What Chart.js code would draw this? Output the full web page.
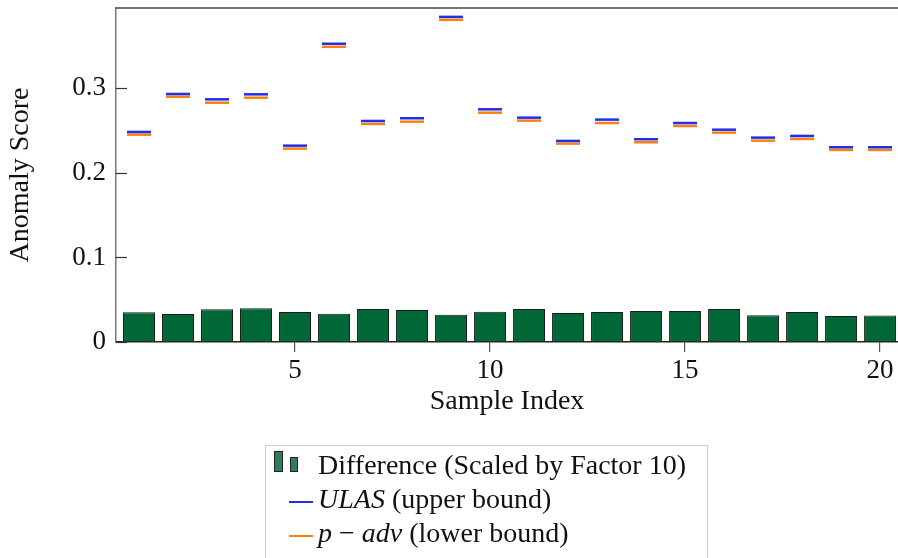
<!DOCTYPE html>
<html>
<head>
<meta charset="utf-8">
<script src="https://cdn.jsdelivr.net/npm/chart.js@4.4.1/dist/chart.umd.min.js"></script>
<style>
  html, body { margin: 0; padding: 0; background: #fff; }
  #wrap { width: 898px; height: 558px; }
</style>
</head>
<body>
<div id="wrap"><canvas id="myChart" width="898" height="558"></canvas></div>
<script>
// values
var sampleIndex = [1, 2, 3, 4, 5, 6, 7, 8, 9, 10, 11, 12, 13, 14, 15, 16, 17, 18, 19, 20];
var ulasUpper = [0.2484, 0.2933, 0.2870, 0.2929, 0.2322, 0.3527, 0.2614, 0.2646, 0.3845, 0.2752,
                 0.2653, 0.2378, 0.2630, 0.2398, 0.2590, 0.2511, 0.2417, 0.2437, 0.2303, 0.2303];
var padvLower = [0.2452, 0.2901, 0.2830, 0.2889, 0.2287, 0.3491, 0.2579, 0.2606, 0.3810, 0.2712,
                 0.2618, 0.2346, 0.2590, 0.2362, 0.2555, 0.2476, 0.2381, 0.2402, 0.2271, 0.2271];
var diffScaled = [0.0351, 0.0332, 0.0386, 0.0398, 0.0355, 0.0335, 0.0391, 0.0379, 0.0323, 0.0359,
                  0.0391, 0.0343, 0.0355, 0.0367, 0.0367, 0.0391, 0.0315, 0.0355, 0.0308, 0.0312];
var xTicks = [5, 10, 15, 20];
var yTicks = [0, 0.1, 0.2, 0.3];

// legend text, split where the reference switches to math italic
var legendRows = [
  [['Difference (Scaled by Factor 10)', false]],
  [['ULAS', true], [' (upper bound)', false]],
  [['p', true], [' \u2212 ', false], ['adv', true], [' (lower bound)', false]]
];

function points(ys) {
  return sampleIndex.map(function (x, i) { return { x: x, y: ys[i] }; });
}

var FONT = 'Liberation Serif';

// top frame line and the inward y ticks
var frameTicks = {
  id: 'frameTicks',
  afterDatasetsDraw: function (chart) {
    var ctx = chart.ctx, a = chart.chartArea, y = chart.scales.y;
    ctx.save();
    ctx.strokeStyle = '#444';
    ctx.lineWidth = 1.5;
    ctx.beginPath();
    ctx.moveTo(a.left, a.top);
    ctx.lineTo(a.right, a.top);
    ctx.stroke();
    ctx.strokeStyle = '#333';
    ctx.lineWidth = 1.2;
    yTicks.forEach(function (v) {
      var py = Math.round(y.getPixelForValue(v)) + 0.5;
      ctx.beginPath();
      ctx.moveTo(a.left, py);
      ctx.lineTo(a.left + 11, py);
      ctx.stroke();
    });
    ctx.restore();
  }
};

// boxed legend under the axis, like the pgfplots one
var boxLegend = {
  id: 'boxLegend',
  afterDraw: function (chart) {
    var ctx = chart.ctx, ds = chart.data.datasets;
    var rowY = [467, 501, 535];
    ctx.save();
    ctx.fillStyle = '#fff';
    ctx.fillRect(265.5, 445.5, 442, 120);
    ctx.strokeStyle = '#cccccc';
    ctx.lineWidth = 1;
    ctx.strokeRect(265.5, 445.5, 442, 120);

    // bar icon
    ctx.fillStyle = '#2f7e59';
    ctx.strokeStyle = '#222';
    ctx.fillRect(274, 451, 9, 21);
    ctx.strokeRect(274.5, 451.5, 8, 20);
    ctx.fillRect(290, 457, 8, 15);
    ctx.strokeRect(290.5, 457.5, 7, 14);

    // line icons
    ctx.lineWidth = 2;
    [1, 2].forEach(function (i) {
      ctx.strokeStyle = ds[i].borderColor;
      ctx.beginPath();
      ctx.moveTo(289, rowY[i] + 1);
      ctx.lineTo(313, rowY[i] + 1);
      ctx.stroke();
    });

    ctx.fillStyle = '#111';
    ctx.textBaseline = 'middle';
    legendRows.forEach(function (parts, r) {
      var x = 318;
      parts.forEach(function (p) {
        ctx.font = (p[1] ? 'italic ' : '') + '28px "' + FONT + '"';
        ctx.fillText(p[0], x, rowY[r]);
        x += ctx.measureText(p[0]).width;
      });
    });
    ctx.restore();
  }
};

Chart.defaults.font.family = FONT;
Chart.defaults.font.size = 27;
Chart.defaults.color = '#111';

var ctx = document.getElementById('myChart').getContext('2d');
var myChart = new Chart(ctx, {
  type: 'bar',
  data: {
    datasets: [{
      type: 'bar',
      label: 'Difference (Scaled by Factor 10)',
      data: points(diffScaled),
      backgroundColor: '#006837',
      borderColor: '#1a1a1a',
      borderWidth: 1,
      categoryPercentage: 1.0,
      barPercentage: 0.82,
      order: 2
    }, {
      type: 'line',
      label: 'ULAS (upper bound)',
      data: points(ulasUpper),
      showLine: false,
      borderColor: '#1f2ff0',
      backgroundColor: '#1f2ff0',
      pointStyle: 'line',
      pointRadius: 12,
      pointBorderWidth: 2.5,
      order: 1
    }, {
      type: 'line',
      label: 'p \u2212 adv (lower bound)',
      data: points(padvLower),
      showLine: false,
      borderColor: '#ff7f0e',
      backgroundColor: '#ff7f0e',
      pointStyle: 'line',
      pointRadius: 12,
      pointBorderWidth: 2.5,
      order: 1
    }]
  },
  options: {
    responsive: false,
    animation: false,
    devicePixelRatio: 1,
    layout: { autoPadding: false, padding: { top: 8, right: 0, bottom: 140, left: 0 } },
    plugins: {
      legend: { display: false },
      tooltip: { enabled: false }
    },
    scales: {
      x: {
        type: 'linear',
        min: 0.41,
        max: 20.46,
        offset: false,
        afterBuildTicks: function (s) { s.ticks = xTicks.map(function (v) { return { value: v }; }); },
        afterFit: function (s) { s.height = 76; s.paddingLeft = 0; s.paddingRight = 0; },
        grid: { offset: false, drawOnChartArea: false, drawTicks: true, tickLength: 10, color: '#555', lineWidth: 1.2 },
        border: { display: true, color: '#222', width: 1.5 },
        ticks: { padding: 3, maxRotation: 0 },
        title: { display: true, text: 'Sample Index', padding: 0, font: { size: 28 } }
      },
      y: {
        min: 0,
        max: 0.395,
        afterBuildTicks: function (s) { s.ticks = yTicks.map(function (v) { return { value: v }; }); },
        afterFit: function (s) { s.width = 116; s.paddingTop = 0; s.paddingBottom = 0; },
        grid: { drawOnChartArea: false, drawTicks: false },
        border: { display: true, color: '#777', width: 1.5 },
        ticks: { padding: 10, callback: function (v) { return v === 0 ? '0' : v.toFixed(1); } },
        title: { display: true, text: 'Anomaly Score', padding: { top: 4, bottom: 0 }, font: { size: 28 } }
      }
    }
  },
  plugins: [frameTicks, boxLegend]
});
</script>
</body>
</html>
